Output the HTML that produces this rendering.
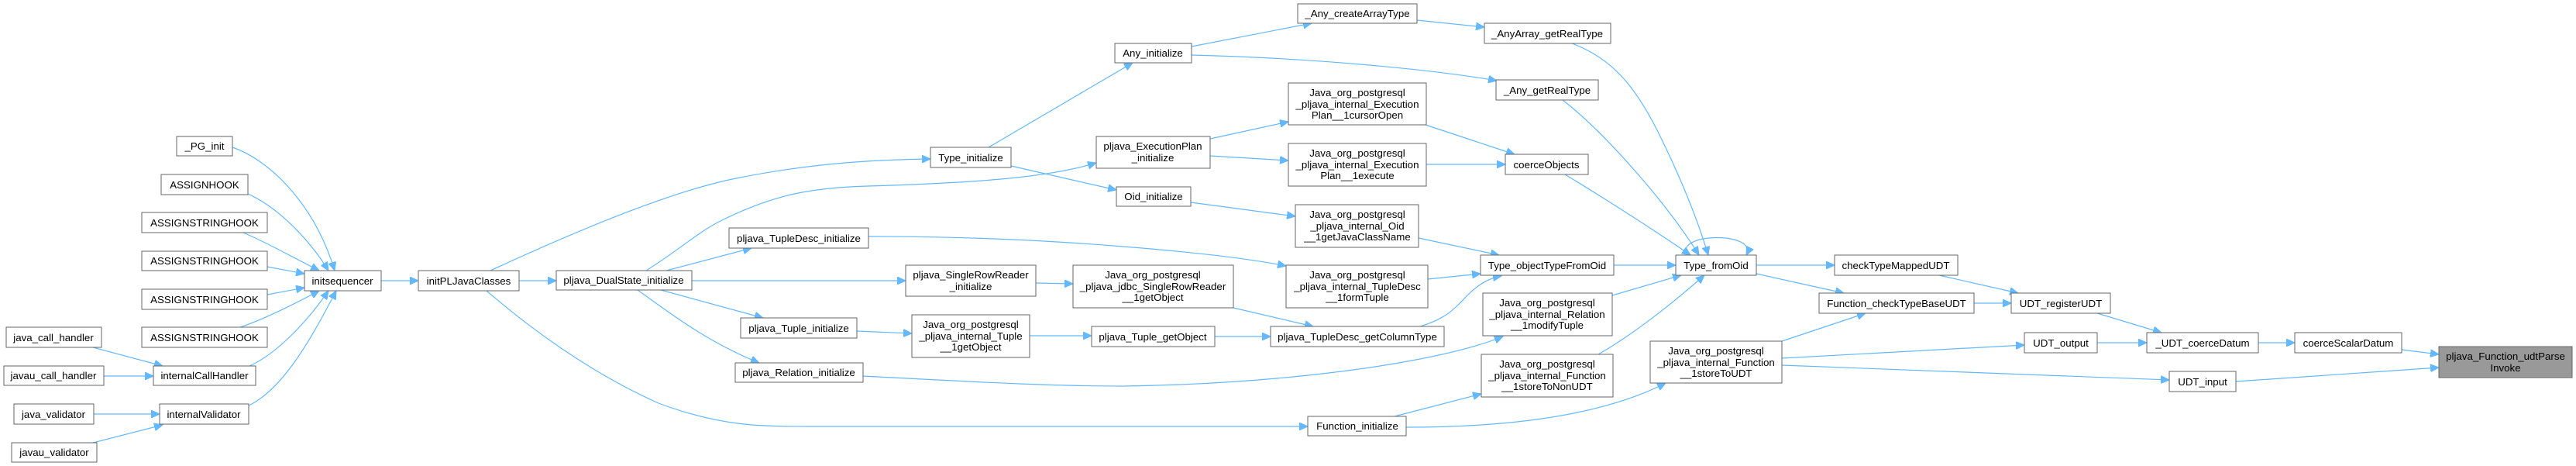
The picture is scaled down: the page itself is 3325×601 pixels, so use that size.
<!DOCTYPE html>
<html><head><meta charset="utf-8"><style>
html,body{margin:0;padding:0;background:#fff;}
svg{display:block;}
text{font-family:"Liberation Sans",Arial,sans-serif;font-size:13.3px;fill:#000;text-anchor:middle;}
.n{fill:#fff;stroke:#666;stroke-width:1;}
.e{fill:none;stroke:#63b8ff;stroke-width:1.2;marker-end:url(#a);}
</style></head><body>
<svg width="3325" height="601" viewBox="0 0 3325 601" xmlns="http://www.w3.org/2000/svg">
<defs><marker id="a" markerUnits="userSpaceOnUse" markerWidth="12" markerHeight="10" refX="11" refY="5" orient="auto"><path d="M0,0 L11,5 L0,10 z" fill="#63b8ff" stroke="#63b8ff"/></marker></defs>
<g>
<path class="e" d="M300,190 C345,205 405,260 432,349"/>
<path class="e" d="M320,250 C360,268 400,310 424,349"/>
<path class="e" d="M314,300 C345,313 380,333 412,349"/>
<path class="e" d="M345,344 L393,353"/>
<path class="e" d="M345,380 L393,371"/>
<path class="e" d="M310,422 C340,412 380,392 412,375"/>
<path class="e" d="M322,472 C360,455 400,410 424,375"/>
<path class="e" d="M321,523 C370,500 410,420 434,375"/>
<path class="e" d="M120,448 L210,472"/>
<path class="e" d="M134,485 L198,485"/>
<path class="e" d="M121,534 L206,534"/>
<path class="e" d="M120,571 L210,548"/>
<path class="e" d="M492,362 L540,362"/>
<path class="e" d="M670,362 L718,362"/>
<path class="e" d="M633,349 C700,318 850,250 950,230 C1050,210 1130,206 1201,205"/>
<path class="e" d="M834,349 C880,320 900,300 930,285 C1000,250 1050,242 1120,240 C1250,236 1350,230 1415,210"/>
<path class="e" d="M860,349 L970,320"/>
<path class="e" d="M893,362 L1169,362"/>
<path class="e" d="M853,374 L985,410"/>
<path class="e" d="M823,374 C860,400 910,440 980,468"/>
<path class="e" d="M628,375 C680,420 760,480 850,520 C930,550 980,550 1050,550 L1688,550"/>
<path class="e" d="M1276,190 L1462,81"/>
<path class="e" d="M1305,214 L1441,245"/>
<path class="e" d="M1121,305 C1250,305 1350,310 1450,318 C1550,326 1620,335 1660,343"/>
<path class="e" d="M1337,365 L1385,366"/>
<path class="e" d="M1106,427 L1177,430"/>
<path class="e" d="M1329,433 L1409,433"/>
<path class="e" d="M1114,485 C1250,492 1350,498 1450,498 C1650,495 1850,470 1940,434"/>
<path class="e" d="M1800,537 L1912,508"/>
<path class="e" d="M1815,551 C1950,551 2070,535 2150,494"/>
<path class="e" d="M1538,60 L1693,30"/>
<path class="e" d="M1538,71 C1700,75 1850,90 1932,104"/>
<path class="e" d="M1829,26 L1916,35"/>
<path class="e" d="M1562,179 L1663,157"/>
<path class="e" d="M1562,201 L1663,207"/>
<path class="e" d="M1840,161 L1955,199"/>
<path class="e" d="M1841,212 L1943,212"/>
<path class="e" d="M1537,261 L1672,279"/>
<path class="e" d="M1831,307 L1935,329"/>
<path class="e" d="M1843,360 L1911,353"/>
<path class="e" d="M1592,397 L1695,421"/>
<path class="e" d="M1568,434 L1640,434"/>
<path class="e" d="M1833,421 C1870,410 1880,395 1895,380 C1910,365 1925,358 1938,356"/>
<path class="e" d="M2029,56 C2080,75 2110,110 2140,170 C2170,230 2190,280 2205,329"/>
<path class="e" d="M2017,129 C2070,170 2150,260 2193,329"/>
<path class="e" d="M2020,225 C2070,255 2140,300 2182,329"/>
<path class="e" d="M2083,342 L2163,342"/>
<path class="e" d="M2081,381 L2170,355"/>
<path class="e" d="M2063,457 C2110,430 2160,390 2200,355"/>
<path class="e" d="M2178,329 C2160,300 2270,298 2254,329"/>
<path class="e" d="M2267,342 L2368,342"/>
<path class="e" d="M2267,353 L2380,378"/>
<path class="e" d="M2300,440 L2408,404"/>
<path class="e" d="M2300,462 L2613,445"/>
<path class="e" d="M2300,471 L2800,490"/>
<path class="e" d="M2503,355 L2605,378"/>
<path class="e" d="M2548,391 L2596,391"/>
<path class="e" d="M2707,404 L2790,429"/>
<path class="e" d="M2707,442 L2771,442"/>
<path class="e" d="M2915,442 L2962,442"/>
<path class="e" d="M3100,451 L3148,457"/>
<path class="e" d="M2886,492 L3148,474"/>
</g>
<g>
<rect class="n" x="228" y="176" width="72" height="25"/><text x="264" y="193">_PG_init</text>
<rect class="n" x="208" y="225" width="112" height="26"/><text x="264" y="243">ASSIGNHOOK</text>
<rect class="n" x="183" y="274" width="162" height="26"/><text x="264" y="292">ASSIGNSTRINGHOOK</text>
<rect class="n" x="183" y="324" width="162" height="25"/><text x="264" y="341">ASSIGNSTRINGHOOK</text>
<rect class="n" x="183" y="373" width="162" height="26"/><text x="264" y="391">ASSIGNSTRINGHOOK</text>
<rect class="n" x="183" y="422" width="162" height="26"/><text x="264" y="440">ASSIGNSTRINGHOOK</text>
<rect class="n" x="8" y="422" width="123" height="26"/><text x="69" y="440">java_call_handler</text>
<rect class="n" x="5" y="472" width="129" height="25"/><text x="69" y="489">javau_call_handler</text>
<rect class="n" x="198" y="472" width="132" height="25"/><text x="264" y="489">internalCallHandler</text>
<rect class="n" x="18" y="521" width="103" height="26"/><text x="69" y="539">java_validator</text>
<rect class="n" x="206" y="521" width="115" height="26"/><text x="263" y="539">internalValidator</text>
<rect class="n" x="15" y="571" width="110" height="25"/><text x="70" y="588">javau_validator</text>
<rect class="n" x="393" y="349" width="99" height="26"/><text x="442" y="367">initsequencer</text>
<rect class="n" x="540" y="349" width="130" height="26"/><text x="605" y="367">initPLJavaClasses</text>
<rect class="n" x="718" y="349" width="175" height="25"/><text x="805" y="366">pljava_DualState_initialize</text>
<rect class="n" x="1201" y="190" width="104" height="26"/><text x="1253" y="208">Type_initialize</text>
<rect class="n" x="941" y="294" width="180" height="26"/><text x="1031" y="312">pljava_TupleDesc_initialize</text>
<rect class="n" x="1169" y="342" width="168" height="40"/><text x="1253" y="359">pljava_SingleRowReader</text><text x="1253" y="374">_initialize</text>
<rect class="n" x="956" y="410" width="150" height="26"/><text x="1031" y="428">pljava_Tuple_initialize</text>
<rect class="n" x="1177" y="406" width="152" height="55"/><text x="1253" y="423">Java_org_postgresql</text><text x="1253" y="438">_pljava_internal_Tuple</text><text x="1253" y="452">__1getObject</text>
<rect class="n" x="949" y="468" width="165" height="25"/><text x="1031" y="485">pljava_Relation_initialize</text>
<rect class="n" x="1385" y="342" width="207" height="55"/><text x="1488" y="359">Java_org_postgresql</text><text x="1488" y="374">_pljava_jdbc_SingleRowReader</text><text x="1488" y="388">__1getObject</text>
<rect class="n" x="1439" y="56" width="99" height="25"/><text x="1488" y="73">Any_initialize</text>
<rect class="n" x="1415" y="176" width="147" height="41"/><text x="1488" y="193">pljava_ExecutionPlan</text><text x="1488" y="208">_initialize</text>
<rect class="n" x="1441" y="241" width="96" height="25"/><text x="1489" y="258">Oid_initialize</text>
<rect class="n" x="1409" y="421" width="159" height="26"/><text x="1488" y="439">pljava_Tuple_getObject</text>
<rect class="n" x="1675" y="5" width="154" height="25"/><text x="1752" y="22">_Any_createArrayType</text>
<rect class="n" x="1663" y="107" width="178" height="54"/><text x="1752" y="124">Java_org_postgresql</text><text x="1752" y="139">_pljava_internal_Execution</text><text x="1752" y="153">Plan__1cursorOpen</text>
<rect class="n" x="1663" y="185" width="178" height="55"/><text x="1752" y="202">Java_org_postgresql</text><text x="1752" y="217">_pljava_internal_Execution</text><text x="1752" y="231">Plan__1execute</text>
<rect class="n" x="1672" y="264" width="159" height="55"/><text x="1752" y="281">Java_org_postgresql</text><text x="1752" y="296">_pljava_internal_Oid</text><text x="1752" y="310">__1getJavaClassName</text>
<rect class="n" x="1660" y="342" width="183" height="55"/><text x="1752" y="359">Java_org_postgresql</text><text x="1752" y="374">_pljava_internal_TupleDesc</text><text x="1752" y="388">__1formTuple</text>
<rect class="n" x="1640" y="421" width="224" height="26"/><text x="1752" y="439">pljava_TupleDesc_getColumnType</text>
<rect class="n" x="1688" y="537" width="127" height="25"/><text x="1752" y="554">Function_initialize</text>
<rect class="n" x="1916" y="30" width="163" height="26"/><text x="1997" y="48">_AnyArray_getRealType</text>
<rect class="n" x="1931" y="103" width="132" height="26"/><text x="1997" y="121">_Any_getRealType</text>
<rect class="n" x="1943" y="199" width="107" height="26"/><text x="1996" y="217">coerceObjects</text>
<rect class="n" x="1911" y="329" width="172" height="26"/><text x="1997" y="347">Type_objectTypeFromOid</text>
<rect class="n" x="1914" y="378" width="167" height="55"/><text x="1997" y="395">Java_org_postgresql</text><text x="1997" y="410">_pljava_internal_Relation</text><text x="1997" y="424">__1modifyTuple</text>
<rect class="n" x="1912" y="457" width="170" height="55"/><text x="1997" y="474">Java_org_postgresql</text><text x="1997" y="489">_pljava_internal_Function</text><text x="1997" y="503">__1storeToNonUDT</text>
<rect class="n" x="2163" y="329" width="104" height="26"/><text x="2215" y="347">Type_fromOid</text>
<rect class="n" x="2130" y="440" width="170" height="54"/><text x="2215" y="457">Java_org_postgresql</text><text x="2215" y="472">_pljava_internal_Function</text><text x="2215" y="486">__1storeToUDT</text>
<rect class="n" x="2368" y="329" width="159" height="26"/><text x="2447" y="347">checkTypeMappedUDT</text>
<rect class="n" x="2348" y="378" width="200" height="26"/><text x="2448" y="396">Function_checkTypeBaseUDT</text>
<rect class="n" x="2596" y="378" width="128" height="26"/><text x="2660" y="396">UDT_registerUDT</text>
<rect class="n" x="2613" y="429" width="94" height="26"/><text x="2660" y="447">UDT_output</text>
<rect class="n" x="2800" y="479" width="86" height="26"/><text x="2843" y="497">UDT_input</text>
<rect class="n" x="2771" y="429" width="144" height="26"/><text x="2843" y="447">_UDT_coerceDatum</text>
<rect class="n" x="2962" y="429" width="138" height="26"/><text x="3031" y="447">coerceScalarDatum</text>
<rect x="3148" y="447" width="172" height="40" fill="#999" stroke="#666"/><text x="3234" y="464">pljava_Function_udtParse</text><text x="3234" y="479">Invoke</text>
</g>
</svg>
</body></html>
